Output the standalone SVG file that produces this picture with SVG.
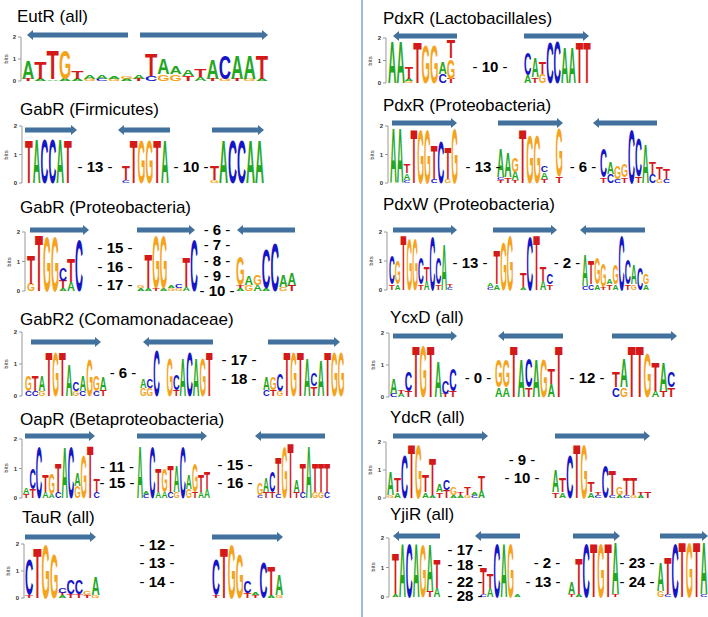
<svg xmlns="http://www.w3.org/2000/svg" width="708" height="617" viewBox="0 0 708 617">
<style>
.ti{font-family:"Liberation Sans",Arial,sans-serif;font-size:17px;fill:#000}
.lg text{font-family:"Liberation Sans",Arial,sans-serif;font-weight:bold}
.a{fill:#22a722}.c{fill:#1515c8}.g{fill:#f5a31a}.t{fill:#d41919}
.ax{stroke:#999;stroke-width:1;fill:none}
.al{font-family:"Liberation Sans",Arial,sans-serif;font-size:6px;font-weight:bold;fill:#333;text-anchor:end}
.bl{font-family:"Liberation Sans",Arial,sans-serif;font-size:6px;fill:#333;text-anchor:middle}
.n{font-family:"Liberation Sans",Arial,sans-serif;font-size:15px;font-weight:bold;fill:#000;text-anchor:middle}
.n tspan{font-weight:normal}
.ar{stroke:#41719c;stroke-width:5;marker-end:url(#ah)}
</style>
<defs>
<marker id="ah" markerWidth="6" markerHeight="10" refX="0" refY="5" orient="auto" markerUnits="userSpaceOnUse"><path d="M0,0L6,5L0,10z" fill="#41719c"/></marker>
</defs>
<rect width="708" height="617" fill="#fff"/>
<line x1="362" y1="0" x2="362" y2="617" stroke="#5b8fc7" stroke-width="1.2"/>

<g id="arrows">
<line class="ar" x1="128" y1="35" x2="33" y2="35"/>
<line class="ar" x1="140" y1="35" x2="262" y2="35"/>
<line class="ar" x1="25" y1="130" x2="71" y2="130"/>
<line class="ar" x1="170" y1="130" x2="124" y2="130"/>
<line class="ar" x1="212" y1="130" x2="258" y2="130"/>
<line class="ar" x1="30" y1="230" x2="83" y2="230"/>
<line class="ar" x1="137" y1="230" x2="189" y2="230"/>
<line class="ar" x1="295" y1="230" x2="243" y2="230"/>
<line class="ar" x1="31" y1="342" x2="95" y2="342"/>
<line class="ar" x1="213" y1="342" x2="149" y2="342"/>
<line class="ar" x1="268" y1="342" x2="334" y2="342"/>
<line class="ar" x1="25" y1="436" x2="89" y2="436"/>
<line class="ar" x1="137" y1="436" x2="201" y2="436"/>
<line class="ar" x1="325" y1="436" x2="261" y2="436"/>
<line class="ar" x1="25" y1="537" x2="90" y2="537"/>
<line class="ar" x1="212" y1="537" x2="277" y2="537"/>
<line class="ar" x1="457" y1="36" x2="399" y2="36"/>
<line class="ar" x1="524" y1="36" x2="583" y2="36"/>
<line class="ar" x1="392" y1="123" x2="451" y2="123"/>
<line class="ar" x1="498" y1="123" x2="557" y2="123"/>
<line class="ar" x1="657" y1="123" x2="599" y2="123"/>
<line class="ar" x1="393" y1="230" x2="451" y2="230"/>
<line class="ar" x1="493" y1="230" x2="551" y2="230"/>
<line class="ar" x1="645" y1="230" x2="586" y2="230"/>
<line class="ar" x1="393" y1="336" x2="451" y2="336"/>
<line class="ar" x1="563" y1="336" x2="504" y2="336"/>
<line class="ar" x1="612" y1="336" x2="671" y2="336"/>
<line class="ar" x1="393" y1="436" x2="482" y2="436"/>
<line class="ar" x1="555" y1="436" x2="644" y2="436"/>
<line class="ar" x1="440" y1="536" x2="399" y2="536"/>
<line class="ar" x1="520" y1="536" x2="481" y2="536"/>
<line class="ar" x1="573" y1="536" x2="614" y2="536"/>
<line class="ar" x1="660" y1="536" x2="702" y2="536"/>
</g>

<!-- EutR -->
<g id="eutr">
<text class="ti" x="17" y="22">EutR (all)</text>
<path class="ax" d="M21,37V81M18,37H21M18,59H21M18,81H21"/>
<text class="al" x="16" y="39">2</text><text class="al" x="16" y="61">1</text><text class="al" x="16" y="83">0</text>
<text class="bl" transform="translate(8,59) rotate(-90)">bits</text>
<g class="lg" transform="translate(22,81) scale(1.23,2.2)">
<text class="t" font-size="1.4" textLength="10" lengthAdjust="spacingAndGlyphs">T</text>
<text class="a" y="-1" font-size="11.9" textLength="10" lengthAdjust="spacingAndGlyphs">A</text>
<text class="a" x="10" font-size="1.4" textLength="10" lengthAdjust="spacingAndGlyphs">A</text>
<text class="t" x="10" y="-1" font-size="10.5" textLength="10" lengthAdjust="spacingAndGlyphs">T</text>
<text class="a" x="20" font-size="1.1" textLength="10" lengthAdjust="spacingAndGlyphs">A</text>
<text class="t" x="20" y="-0.8" font-size="18.9" textLength="10" lengthAdjust="spacingAndGlyphs">T</text>
<text class="a" x="30" font-size="1.4" textLength="10" lengthAdjust="spacingAndGlyphs">A</text>
<text class="g" x="30" y="-1" font-size="18.9" textLength="10" lengthAdjust="spacingAndGlyphs">G</text>
<text class="a" x="40" font-size="1.4" textLength="10" lengthAdjust="spacingAndGlyphs">A</text>
<text class="t" x="40" y="-1" font-size="4.9" textLength="10" lengthAdjust="spacingAndGlyphs">T</text>
<text class="g" x="50" font-size="1.4" textLength="10" lengthAdjust="spacingAndGlyphs">G</text>
<text class="a" x="50" y="-1" font-size="2.1" textLength="10" lengthAdjust="spacingAndGlyphs">A</text>
<text class="c" x="60" font-size="1.4" textLength="10" lengthAdjust="spacingAndGlyphs">C</text>
<text class="a" x="60" y="-1" font-size="2.1" textLength="10" lengthAdjust="spacingAndGlyphs">A</text>
<text class="g" x="70" font-size="1.4" textLength="10" lengthAdjust="spacingAndGlyphs">G</text>
<text class="a" x="70" y="-1" font-size="1.4" textLength="10" lengthAdjust="spacingAndGlyphs">A</text>
<text class="a" x="80" font-size="1.4" textLength="10" lengthAdjust="spacingAndGlyphs">A</text>
<text class="g" x="80" y="-1" font-size="1.4" textLength="10" lengthAdjust="spacingAndGlyphs">G</text>
<text class="t" x="90" font-size="1.4" textLength="10" lengthAdjust="spacingAndGlyphs">T</text>
<text class="a" x="90" y="-1" font-size="2.1" textLength="10" lengthAdjust="spacingAndGlyphs">A</text>
<text class="c" x="100" font-size="3.5" textLength="10" lengthAdjust="spacingAndGlyphs">C</text>
<text class="t" x="100" y="-2.5" font-size="14" textLength="10" lengthAdjust="spacingAndGlyphs">T</text>
<text class="g" x="110" font-size="4.2" textLength="10" lengthAdjust="spacingAndGlyphs">G</text>
<text class="a" x="110" y="-3" font-size="9.8" textLength="10" lengthAdjust="spacingAndGlyphs">A</text>
<text class="g" x="120" font-size="4.2" textLength="10" lengthAdjust="spacingAndGlyphs">G</text>
<text class="a" x="120" y="-3" font-size="4.9" textLength="10" lengthAdjust="spacingAndGlyphs">A</text>
<text class="t" x="130" font-size="3.5" textLength="10" lengthAdjust="spacingAndGlyphs">T</text>
<text class="a" x="130" y="-2.5" font-size="4.2" textLength="10" lengthAdjust="spacingAndGlyphs">A</text>
<text class="a" x="140" font-size="2.8" textLength="10" lengthAdjust="spacingAndGlyphs">A</text>
<text class="t" x="140" y="-2" font-size="4.9" textLength="10" lengthAdjust="spacingAndGlyphs">T</text>
<text class="t" x="150" font-size="1.4" textLength="10" lengthAdjust="spacingAndGlyphs">T</text>
<text class="a" x="150" y="-1" font-size="12.6" textLength="10" lengthAdjust="spacingAndGlyphs">A</text>
<text class="g" x="160" font-size="1.4" textLength="10" lengthAdjust="spacingAndGlyphs">G</text>
<text class="c" x="160" y="-1" font-size="14.7" textLength="10" lengthAdjust="spacingAndGlyphs">C</text>
<text class="t" x="170" font-size="1.4" textLength="10" lengthAdjust="spacingAndGlyphs">T</text>
<text class="a" x="170" y="-1" font-size="14.7" textLength="10" lengthAdjust="spacingAndGlyphs">A</text>
<text class="g" x="180" font-size="1.4" textLength="10" lengthAdjust="spacingAndGlyphs">G</text>
<text class="a" x="180" y="-1" font-size="14.7" textLength="10" lengthAdjust="spacingAndGlyphs">A</text>
<text class="a" x="190" font-size="1.4" textLength="10" lengthAdjust="spacingAndGlyphs">A</text>
<text class="t" x="190" y="-1" font-size="14.7" textLength="10" lengthAdjust="spacingAndGlyphs">T</text>
</g>
</g>

<!-- GabR Firmicutes -->
<g id="gabr-firmicutes">
<text class="ti" x="20" y="115">GabR (Firmicutes)</text>
<path class="ax" d="M22,126V183M19,126H22M19,154.5H22M19,183H22"/>
<text class="al" x="17" y="128">2</text><text class="al" x="17" y="156.5">1</text><text class="al" x="17" y="185">0</text>
<text class="bl" transform="translate(8,155) rotate(-90)">bits</text>
<g class="lg" transform="translate(25,183) scale(0.78,2.85)">
<text class="t" font-size="21.7" textLength="10" lengthAdjust="spacingAndGlyphs">T</text>
<text class="a" x="10" font-size="22.4" textLength="10" lengthAdjust="spacingAndGlyphs">A</text>
<text class="c" x="20" font-size="22.4" textLength="10" lengthAdjust="spacingAndGlyphs">C</text>
<text class="c" x="30" font-size="22.4" textLength="10" lengthAdjust="spacingAndGlyphs">C</text>
<text class="a" x="40" font-size="22.4" textLength="10" lengthAdjust="spacingAndGlyphs">A</text>
<text class="t" x="50" font-size="21.7" textLength="10" lengthAdjust="spacingAndGlyphs">T</text>
</g>
<g class="lg" transform="translate(122,183) scale(0.78,2.85)">
<text class="c" font-size="1.4" textLength="10" lengthAdjust="spacingAndGlyphs">C</text>
<text class="t" y="-1" font-size="7" textLength="10" lengthAdjust="spacingAndGlyphs">T</text>
<text class="t" x="10" font-size="21.7" textLength="10" lengthAdjust="spacingAndGlyphs">T</text>
<text class="g" x="20" font-size="21.7" textLength="10" lengthAdjust="spacingAndGlyphs">G</text>
<text class="g" x="30" font-size="21.7" textLength="10" lengthAdjust="spacingAndGlyphs">G</text>
<text class="t" x="40" font-size="21.7" textLength="10" lengthAdjust="spacingAndGlyphs">T</text>
<text class="a" x="50" font-size="21.7" textLength="10" lengthAdjust="spacingAndGlyphs">A</text>
</g>
<g class="lg" transform="translate(210,183) scale(0.9,2.85)">
<text class="g" font-size="1.4" textLength="10" lengthAdjust="spacingAndGlyphs">G</text>
<text class="t" y="-1" font-size="7" textLength="10" lengthAdjust="spacingAndGlyphs">T</text>
<text class="a" x="10" font-size="21.7" textLength="10" lengthAdjust="spacingAndGlyphs">A</text>
<text class="c" x="20" font-size="21.7" textLength="10" lengthAdjust="spacingAndGlyphs">C</text>
<text class="c" x="30" font-size="21.7" textLength="10" lengthAdjust="spacingAndGlyphs">C</text>
<text class="a" x="40" font-size="21.7" textLength="10" lengthAdjust="spacingAndGlyphs">A</text>
<text class="a" x="50" font-size="21.7" textLength="10" lengthAdjust="spacingAndGlyphs">A</text>
</g>
<text class="n" x="95" y="172"><tspan>-</tspan> 13 <tspan>-</tspan></text>
<text class="n" x="191" y="172"><tspan>-</tspan> 10 <tspan>-</tspan></text>
</g>

<!-- GabR Proteobacteria -->
<g id="gabr-proteobacteria">
<text class="ti" x="20" y="213">GabR (Proteobacteria)</text>
<path class="ax" d="M25,232V291M22,232H25M22,261.5H25M22,291H25"/>
<text class="al" x="20" y="234">2</text><text class="al" x="20" y="263.5">1</text><text class="al" x="20" y="293">0</text>
<text class="bl" transform="translate(11,262) rotate(-90)">bits</text>
<g class="lg" transform="translate(27,291) scale(0.8,2.95)">
<text class="g" font-size="3.5" textLength="10" lengthAdjust="spacingAndGlyphs">G</text>
<text class="t" y="-2.5" font-size="14" textLength="10" lengthAdjust="spacingAndGlyphs">T</text>
<text class="t" x="10" font-size="27.3" textLength="10" lengthAdjust="spacingAndGlyphs">T</text>
<text class="g" x="20" font-size="26.6" textLength="10" lengthAdjust="spacingAndGlyphs">G</text>
<text class="g" x="30" font-size="26.6" textLength="10" lengthAdjust="spacingAndGlyphs">G</text>
<text class="a" x="40" font-size="1.4" textLength="10" lengthAdjust="spacingAndGlyphs">A</text>
<text class="t" x="40" y="-1" font-size="3.5" textLength="10" lengthAdjust="spacingAndGlyphs">T</text>
<text class="c" x="40" y="-3.5" font-size="6.3" textLength="10" lengthAdjust="spacingAndGlyphs">C</text>
<text class="a" x="50" font-size="4.2" textLength="10" lengthAdjust="spacingAndGlyphs">A</text>
<text class="t" x="50" y="-3" font-size="11.2" textLength="10" lengthAdjust="spacingAndGlyphs">T</text>
<text class="c" x="60" font-size="24.5" textLength="10" lengthAdjust="spacingAndGlyphs">C</text>
</g>
<g class="lg" transform="translate(137,291) scale(0.76,2.95)">
<text class="a" font-size="1.4" textLength="10" lengthAdjust="spacingAndGlyphs">A</text>
<text class="g" y="-1" font-size="1.4" textLength="10" lengthAdjust="spacingAndGlyphs">G</text>
<text class="a" x="10" font-size="1.4" textLength="10" lengthAdjust="spacingAndGlyphs">A</text>
<text class="t" x="10" y="-1" font-size="16.1" textLength="10" lengthAdjust="spacingAndGlyphs">T</text>
<text class="t" x="20" font-size="1.4" textLength="10" lengthAdjust="spacingAndGlyphs">T</text>
<text class="g" x="20" y="-1" font-size="25.2" textLength="10" lengthAdjust="spacingAndGlyphs">G</text>
<text class="a" x="30" font-size="1.4" textLength="10" lengthAdjust="spacingAndGlyphs">A</text>
<text class="g" x="30" y="-1" font-size="25.2" textLength="10" lengthAdjust="spacingAndGlyphs">G</text>
<text class="g" x="40" font-size="1.4" textLength="10" lengthAdjust="spacingAndGlyphs">G</text>
<text class="a" x="40" y="-1" font-size="1.4" textLength="10" lengthAdjust="spacingAndGlyphs">A</text>
<text class="g" x="50" font-size="1.4" textLength="10" lengthAdjust="spacingAndGlyphs">G</text>
<text class="c" x="50" y="-1" font-size="2.1" textLength="10" lengthAdjust="spacingAndGlyphs">C</text>
<text class="a" x="60" font-size="2.1" textLength="10" lengthAdjust="spacingAndGlyphs">A</text>
<text class="t" x="60" y="-1.5" font-size="14.7" textLength="10" lengthAdjust="spacingAndGlyphs">T</text>
<text class="c" x="70" font-size="24.5" textLength="10" lengthAdjust="spacingAndGlyphs">C</text>
</g>
<g class="lg" transform="translate(236,291) scale(0.86,2.95)">
<text class="a" font-size="1.4" textLength="10" lengthAdjust="spacingAndGlyphs">A</text>
<text class="t" y="-1" font-size="1.4" textLength="10" lengthAdjust="spacingAndGlyphs">T</text>
<text class="g" y="-2" font-size="14" textLength="10" lengthAdjust="spacingAndGlyphs">G</text>
<text class="g" x="10" font-size="2.8" textLength="10" lengthAdjust="spacingAndGlyphs">G</text>
<text class="a" x="10" y="-2" font-size="4.2" textLength="10" lengthAdjust="spacingAndGlyphs">A</text>
<text class="a" x="20" font-size="2.8" textLength="10" lengthAdjust="spacingAndGlyphs">A</text>
<text class="g" x="20" y="-2" font-size="4.9" textLength="10" lengthAdjust="spacingAndGlyphs">G</text>
<text class="a" x="30" font-size="1.4" textLength="10" lengthAdjust="spacingAndGlyphs">A</text>
<text class="c" x="30" y="-1" font-size="18.9" textLength="10" lengthAdjust="spacingAndGlyphs">C</text>
<text class="c" x="40" font-size="23.1" textLength="10" lengthAdjust="spacingAndGlyphs">C</text>
<text class="g" x="50" font-size="2.1" textLength="10" lengthAdjust="spacingAndGlyphs">G</text>
<text class="a" x="50" y="-1.5" font-size="5.6" textLength="10" lengthAdjust="spacingAndGlyphs">A</text>
<text class="t" x="60" font-size="2.8" textLength="10" lengthAdjust="spacingAndGlyphs">T</text>
<text class="a" x="60" y="-2" font-size="5.6" textLength="10" lengthAdjust="spacingAndGlyphs">A</text>
</g>
<text class="n" x="115" y="253"><tspan>-</tspan> 15 <tspan>-</tspan></text>
<text class="n" x="115" y="272"><tspan>-</tspan> 16 <tspan>-</tspan></text>
<text class="n" x="115" y="290"><tspan>-</tspan> 17 <tspan>-</tspan></text>
<text class="n" x="217" y="235"><tspan>-</tspan> 6 <tspan>-</tspan></text>
<text class="n" x="217" y="250"><tspan>-</tspan> 7 <tspan>-</tspan></text>
<text class="n" x="217" y="266"><tspan>-</tspan> 8 <tspan>-</tspan></text>
<text class="n" x="217" y="281"><tspan>-</tspan> 9 <tspan>-</tspan></text>
<text class="n" x="217" y="296"><tspan>-</tspan> 10 <tspan>-</tspan></text>
</g>

<!-- GabR2 -->
<g id="gabr2">
<text class="ti" x="20" y="325">GabR2 (Comamonadaceae)</text>
<path class="ax" d="M22,332V396M19,332H22M19,364H22M19,396H22"/>
<text class="al" x="17" y="334">2</text><text class="al" x="17" y="366">1</text><text class="al" x="17" y="398">0</text>
<text class="bl" transform="translate(8,364) rotate(-90)">bits</text>
<g class="lg" transform="translate(25,396) scale(0.68,3.2)">
<text class="c" font-size="2.1" textLength="10" lengthAdjust="spacingAndGlyphs">C</text>
<text class="g" y="-1.5" font-size="7" textLength="10" lengthAdjust="spacingAndGlyphs">G</text>
<text class="c" x="10" font-size="2.1" textLength="10" lengthAdjust="spacingAndGlyphs">C</text>
<text class="t" x="10" y="-1.5" font-size="7" textLength="10" lengthAdjust="spacingAndGlyphs">T</text>
<text class="g" x="20" font-size="2.1" textLength="10" lengthAdjust="spacingAndGlyphs">G</text>
<text class="a" x="20" y="-1.5" font-size="7" textLength="10" lengthAdjust="spacingAndGlyphs">A</text>
<text class="t" x="30" font-size="19.6" textLength="10" lengthAdjust="spacingAndGlyphs">T</text>
<text class="g" x="40" font-size="19.6" textLength="10" lengthAdjust="spacingAndGlyphs">G</text>
<text class="t" x="50" font-size="19.6" textLength="10" lengthAdjust="spacingAndGlyphs">T</text>
<text class="a" x="60" font-size="14" textLength="10" lengthAdjust="spacingAndGlyphs">A</text>
<text class="g" x="70" font-size="2.1" textLength="10" lengthAdjust="spacingAndGlyphs">G</text>
<text class="c" x="70" y="-1.5" font-size="4.2" textLength="10" lengthAdjust="spacingAndGlyphs">C</text>
<text class="c" x="80" font-size="2.1" textLength="10" lengthAdjust="spacingAndGlyphs">C</text>
<text class="a" x="80" y="-1.5" font-size="7" textLength="10" lengthAdjust="spacingAndGlyphs">A</text>
<text class="g" x="90" font-size="16.1" textLength="10" lengthAdjust="spacingAndGlyphs">G</text>
<text class="c" x="100" font-size="2.1" textLength="10" lengthAdjust="spacingAndGlyphs">C</text>
<text class="g" x="100" y="-1.5" font-size="7" textLength="10" lengthAdjust="spacingAndGlyphs">G</text>
<text class="t" x="110" font-size="2.8" textLength="10" lengthAdjust="spacingAndGlyphs">T</text>
<text class="a" x="110" y="-2" font-size="5.6" textLength="10" lengthAdjust="spacingAndGlyphs">A</text>
</g>
<g class="lg" transform="translate(140,396) scale(0.66,3.2)">
<text class="g" font-size="3.5" textLength="10" lengthAdjust="spacingAndGlyphs">G</text>
<text class="a" y="-2.5" font-size="4.2" textLength="10" lengthAdjust="spacingAndGlyphs">A</text>
<text class="g" x="10" font-size="3.5" textLength="10" lengthAdjust="spacingAndGlyphs">G</text>
<text class="c" x="10" y="-2.5" font-size="4.2" textLength="10" lengthAdjust="spacingAndGlyphs">C</text>
<text class="c" x="20" font-size="20.3" textLength="10" lengthAdjust="spacingAndGlyphs">C</text>
<text class="g" x="40" font-size="16.8" textLength="10" lengthAdjust="spacingAndGlyphs">G</text>
<text class="t" x="50" font-size="2.8" textLength="10" lengthAdjust="spacingAndGlyphs">T</text>
<text class="c" x="50" y="-2" font-size="7" textLength="10" lengthAdjust="spacingAndGlyphs">C</text>
<text class="a" x="60" font-size="16.8" textLength="10" lengthAdjust="spacingAndGlyphs">A</text>
<text class="c" x="70" font-size="19.6" textLength="10" lengthAdjust="spacingAndGlyphs">C</text>
<text class="a" x="80" font-size="16.8" textLength="10" lengthAdjust="spacingAndGlyphs">A</text>
<text class="g" x="90" font-size="16.8" textLength="10" lengthAdjust="spacingAndGlyphs">G</text>
<text class="t" x="100" font-size="19.6" textLength="10" lengthAdjust="spacingAndGlyphs">T</text>
</g>
<g class="lg" transform="translate(263,396) scale(0.68,3.2)">
<text class="c" font-size="2.8" textLength="10" lengthAdjust="spacingAndGlyphs">C</text>
<text class="a" y="-2" font-size="5.6" textLength="10" lengthAdjust="spacingAndGlyphs">A</text>
<text class="t" x="10" font-size="2.8" textLength="10" lengthAdjust="spacingAndGlyphs">T</text>
<text class="g" x="10" y="-2" font-size="5.6" textLength="10" lengthAdjust="spacingAndGlyphs">G</text>
<text class="g" x="20" font-size="2.1" textLength="10" lengthAdjust="spacingAndGlyphs">G</text>
<text class="c" x="20" y="-1.5" font-size="7.7" textLength="10" lengthAdjust="spacingAndGlyphs">C</text>
<text class="t" x="30" font-size="19.6" textLength="10" lengthAdjust="spacingAndGlyphs">T</text>
<text class="g" x="40" font-size="19.6" textLength="10" lengthAdjust="spacingAndGlyphs">G</text>
<text class="t" x="50" font-size="19.6" textLength="10" lengthAdjust="spacingAndGlyphs">T</text>
<text class="a" x="60" font-size="16.8" textLength="10" lengthAdjust="spacingAndGlyphs">A</text>
<text class="t" x="70" font-size="4.2" textLength="10" lengthAdjust="spacingAndGlyphs">T</text>
<text class="c" x="70" y="-3" font-size="5.6" textLength="10" lengthAdjust="spacingAndGlyphs">C</text>
<text class="a" x="80" font-size="15.4" textLength="10" lengthAdjust="spacingAndGlyphs">A</text>
<text class="t" x="90" font-size="19.6" textLength="10" lengthAdjust="spacingAndGlyphs">T</text>
<text class="g" x="100" font-size="19.6" textLength="10" lengthAdjust="spacingAndGlyphs">G</text>
<text class="g" x="110" font-size="19.6" textLength="10" lengthAdjust="spacingAndGlyphs">G</text>
</g>
<text class="n" x="123" y="378"><tspan>-</tspan> 6 <tspan>-</tspan></text>
<text class="n" x="239" y="365"><tspan>-</tspan> 17 <tspan>-</tspan></text>
<text class="n" x="239" y="384"><tspan>-</tspan> 18 <tspan>-</tspan></text>
</g>

<!-- OapR -->
<g id="oapr">
<text class="ti" x="20" y="425">OapR (Betaproteobacteria)</text>
<path class="ax" d="M22,439V498M19,439H22M19,468.5H22M19,498H22"/>
<text class="al" x="17" y="441">2</text><text class="al" x="17" y="470.5">1</text><text class="al" x="17" y="500">0</text>
<text class="bl" transform="translate(8,468) rotate(-90)">bits</text>
<g class="lg" transform="translate(23,498) scale(0.64,2.95)">
<text class="t" font-size="2.1" textLength="10" lengthAdjust="spacingAndGlyphs">T</text>
<text class="a" y="-1.5" font-size="2.8" textLength="10" lengthAdjust="spacingAndGlyphs">A</text>
<text class="t" x="10" font-size="4.2" textLength="10" lengthAdjust="spacingAndGlyphs">T</text>
<text class="c" x="10" y="-3" font-size="9.8" textLength="10" lengthAdjust="spacingAndGlyphs">C</text>
<text class="c" x="20" font-size="24.5" textLength="10" lengthAdjust="spacingAndGlyphs">C</text>
<text class="a" x="30" font-size="2.8" textLength="10" lengthAdjust="spacingAndGlyphs">A</text>
<text class="t" x="30" y="-2" font-size="8.4" textLength="10" lengthAdjust="spacingAndGlyphs">T</text>
<text class="a" x="40" font-size="2.1" textLength="10" lengthAdjust="spacingAndGlyphs">A</text>
<text class="g" x="40" y="-1.5" font-size="9.8" textLength="10" lengthAdjust="spacingAndGlyphs">G</text>
<text class="c" x="50" font-size="2.8" textLength="10" lengthAdjust="spacingAndGlyphs">C</text>
<text class="t" x="50" y="-2" font-size="14" textLength="10" lengthAdjust="spacingAndGlyphs">T</text>
<text class="a" x="60" font-size="24.5" textLength="10" lengthAdjust="spacingAndGlyphs">A</text>
<text class="c" x="70" font-size="24.5" textLength="10" lengthAdjust="spacingAndGlyphs">C</text>
<text class="g" x="80" font-size="5.6" textLength="10" lengthAdjust="spacingAndGlyphs">G</text>
<text class="a" x="80" y="-4" font-size="6.3" textLength="10" lengthAdjust="spacingAndGlyphs">A</text>
<text class="g" x="90" font-size="21" textLength="10" lengthAdjust="spacingAndGlyphs">G</text>
<text class="t" x="100" font-size="25.2" textLength="10" lengthAdjust="spacingAndGlyphs">T</text>
<text class="c" x="110" font-size="2.8" textLength="10" lengthAdjust="spacingAndGlyphs">C</text>
<text class="t" x="110" y="-2" font-size="6.3" textLength="10" lengthAdjust="spacingAndGlyphs">T</text>
</g>
<g class="lg" transform="translate(137,498) scale(0.61,2.95)">
<text class="a" font-size="25.2" textLength="10" lengthAdjust="spacingAndGlyphs">A</text>
<text class="c" x="10" font-size="2.1" textLength="10" lengthAdjust="spacingAndGlyphs">C</text>
<text class="a" x="10" y="-1.5" font-size="1.4" textLength="10" lengthAdjust="spacingAndGlyphs">A</text>
<text class="c" x="20" font-size="24.5" textLength="10" lengthAdjust="spacingAndGlyphs">C</text>
<text class="a" x="30" font-size="2.8" textLength="10" lengthAdjust="spacingAndGlyphs">A</text>
<text class="t" x="30" y="-2" font-size="11.2" textLength="10" lengthAdjust="spacingAndGlyphs">T</text>
<text class="a" x="40" font-size="2.8" textLength="10" lengthAdjust="spacingAndGlyphs">A</text>
<text class="g" x="40" y="-2" font-size="11.2" textLength="10" lengthAdjust="spacingAndGlyphs">G</text>
<text class="c" x="50" font-size="2.8" textLength="10" lengthAdjust="spacingAndGlyphs">C</text>
<text class="t" x="50" y="-2" font-size="12.6" textLength="10" lengthAdjust="spacingAndGlyphs">T</text>
<text class="g" x="60" font-size="2.8" textLength="10" lengthAdjust="spacingAndGlyphs">G</text>
<text class="a" x="60" y="-2" font-size="12.6" textLength="10" lengthAdjust="spacingAndGlyphs">A</text>
<text class="c" x="70" font-size="24.5" textLength="10" lengthAdjust="spacingAndGlyphs">C</text>
<text class="g" x="80" font-size="4.2" textLength="10" lengthAdjust="spacingAndGlyphs">G</text>
<text class="a" x="80" y="-3" font-size="7" textLength="10" lengthAdjust="spacingAndGlyphs">A</text>
<text class="t" x="90" font-size="2.8" textLength="10" lengthAdjust="spacingAndGlyphs">T</text>
<text class="g" x="90" y="-2" font-size="14" textLength="10" lengthAdjust="spacingAndGlyphs">G</text>
<text class="a" x="100" font-size="2.8" textLength="10" lengthAdjust="spacingAndGlyphs">A</text>
<text class="t" x="100" y="-2" font-size="8.4" textLength="10" lengthAdjust="spacingAndGlyphs">T</text>
<text class="a" x="110" font-size="4.2" textLength="10" lengthAdjust="spacingAndGlyphs">A</text>
<text class="t" x="110" y="-3" font-size="8.4" textLength="10" lengthAdjust="spacingAndGlyphs">T</text>
</g>
<g class="lg" transform="translate(257,498) scale(0.61,2.95)">
<text class="c" font-size="1.4" textLength="10" lengthAdjust="spacingAndGlyphs">C</text>
<text class="g" y="-1" font-size="5.6" textLength="10" lengthAdjust="spacingAndGlyphs">G</text>
<text class="t" x="10" font-size="2.8" textLength="10" lengthAdjust="spacingAndGlyphs">T</text>
<text class="a" x="10" y="-2" font-size="7" textLength="10" lengthAdjust="spacingAndGlyphs">A</text>
<text class="t" x="20" font-size="2.8" textLength="10" lengthAdjust="spacingAndGlyphs">T</text>
<text class="c" x="20" y="-2" font-size="9.8" textLength="10" lengthAdjust="spacingAndGlyphs">C</text>
<text class="c" x="30" font-size="2.1" textLength="10" lengthAdjust="spacingAndGlyphs">C</text>
<text class="t" x="30" y="-1.5" font-size="17.5" textLength="10" lengthAdjust="spacingAndGlyphs">T</text>
<text class="g" x="40" font-size="24.5" textLength="10" lengthAdjust="spacingAndGlyphs">G</text>
<text class="t" x="50" font-size="26.6" textLength="10" lengthAdjust="spacingAndGlyphs">T</text>
<text class="t" x="60" font-size="2.8" textLength="10" lengthAdjust="spacingAndGlyphs">T</text>
<text class="a" x="60" y="-2" font-size="5.6" textLength="10" lengthAdjust="spacingAndGlyphs">A</text>
<text class="c" x="70" font-size="2.8" textLength="10" lengthAdjust="spacingAndGlyphs">C</text>
<text class="t" x="70" y="-2" font-size="14" textLength="10" lengthAdjust="spacingAndGlyphs">T</text>
<text class="a" x="80" font-size="25.2" textLength="10" lengthAdjust="spacingAndGlyphs">A</text>
<text class="g" x="90" font-size="2.8" textLength="10" lengthAdjust="spacingAndGlyphs">G</text>
<text class="t" x="90" y="-2" font-size="14" textLength="10" lengthAdjust="spacingAndGlyphs">T</text>
<text class="g" x="100" font-size="2.8" textLength="10" lengthAdjust="spacingAndGlyphs">G</text>
<text class="t" x="100" y="-2" font-size="14" textLength="10" lengthAdjust="spacingAndGlyphs">T</text>
<text class="c" x="110" font-size="2.8" textLength="10" lengthAdjust="spacingAndGlyphs">C</text>
<text class="t" x="110" y="-2" font-size="14" textLength="10" lengthAdjust="spacingAndGlyphs">T</text>
</g>
<text class="n" x="117" y="472"><tspan>-</tspan> 11 <tspan>-</tspan></text>
<text class="n" x="117" y="488"><tspan>-</tspan> 15 <tspan>-</tspan></text>
<text class="n" x="235" y="470"><tspan>-</tspan> 15 <tspan>-</tspan></text>
<text class="n" x="235" y="488"><tspan>-</tspan> 16 <tspan>-</tspan></text>
</g>

<!-- TauR -->
<g id="taur">
<text class="ti" x="22" y="523">TauR (all)</text>
<path class="ax" d="M24,544V598M21,544H24M21,571H24M21,598H24"/>
<text class="al" x="19" y="546">2</text><text class="al" x="19" y="573">1</text><text class="al" x="19" y="600">0</text>
<text class="bl" transform="translate(10,571) rotate(-90)">bits</text>
<g class="lg" transform="translate(25,598) scale(0.83,2.7)">
<text class="t" font-size="1.4" textLength="10" lengthAdjust="spacingAndGlyphs">T</text>
<text class="c" y="-1" font-size="18.2" textLength="10" lengthAdjust="spacingAndGlyphs">C</text>
<text class="t" x="10" font-size="25.9" textLength="10" lengthAdjust="spacingAndGlyphs">T</text>
<text class="g" x="20" font-size="28" textLength="10" lengthAdjust="spacingAndGlyphs">G</text>
<text class="g" x="30" font-size="23.1" textLength="10" lengthAdjust="spacingAndGlyphs">G</text>
<text class="a" x="40" font-size="1.4" textLength="10" lengthAdjust="spacingAndGlyphs">A</text>
<text class="t" x="40" y="-1" font-size="1.4" textLength="10" lengthAdjust="spacingAndGlyphs">T</text>
<text class="c" x="40" y="-2" font-size="2.8" textLength="10" lengthAdjust="spacingAndGlyphs">C</text>
<text class="t" x="50" font-size="2.1" textLength="10" lengthAdjust="spacingAndGlyphs">T</text>
<text class="c" x="50" y="-1.5" font-size="7.7" textLength="10" lengthAdjust="spacingAndGlyphs">C</text>
<text class="t" x="60" font-size="2.1" textLength="10" lengthAdjust="spacingAndGlyphs">T</text>
<text class="c" x="60" y="-1.5" font-size="7.7" textLength="10" lengthAdjust="spacingAndGlyphs">C</text>
<text class="t" x="70" font-size="1.4" textLength="10" lengthAdjust="spacingAndGlyphs">T</text>
<text class="g" x="70" y="-1" font-size="2.1" textLength="10" lengthAdjust="spacingAndGlyphs">G</text>
<text class="g" x="80" font-size="1.4" textLength="10" lengthAdjust="spacingAndGlyphs">G</text>
<text class="a" x="80" y="-1" font-size="9.8" textLength="10" lengthAdjust="spacingAndGlyphs">A</text>
</g>
<g class="lg" transform="translate(212,598) scale(0.79,2.7)">
<text class="t" font-size="1.4" textLength="10" lengthAdjust="spacingAndGlyphs">T</text>
<text class="c" y="-1" font-size="18.2" textLength="10" lengthAdjust="spacingAndGlyphs">C</text>
<text class="t" x="10" font-size="25.9" textLength="10" lengthAdjust="spacingAndGlyphs">T</text>
<text class="g" x="20" font-size="28" textLength="10" lengthAdjust="spacingAndGlyphs">G</text>
<text class="g" x="30" font-size="23.1" textLength="10" lengthAdjust="spacingAndGlyphs">G</text>
<text class="t" x="40" font-size="2.8" textLength="10" lengthAdjust="spacingAndGlyphs">T</text>
<text class="c" x="40" y="-2" font-size="6.3" textLength="10" lengthAdjust="spacingAndGlyphs">C</text>
<text class="t" x="50" font-size="1.4" textLength="10" lengthAdjust="spacingAndGlyphs">T</text>
<text class="a" x="50" y="-1" font-size="1.4" textLength="10" lengthAdjust="spacingAndGlyphs">A</text>
<text class="c" x="60" font-size="18.2" textLength="10" lengthAdjust="spacingAndGlyphs">C</text>
<text class="a" x="70" font-size="1.4" textLength="10" lengthAdjust="spacingAndGlyphs">A</text>
<text class="t" x="70" y="-1" font-size="15.4" textLength="10" lengthAdjust="spacingAndGlyphs">T</text>
<text class="g" x="80" font-size="1.4" textLength="10" lengthAdjust="spacingAndGlyphs">G</text>
<text class="a" x="80" y="-1" font-size="11.2" textLength="10" lengthAdjust="spacingAndGlyphs">A</text>
</g>
<text class="n" x="157" y="550"><tspan>-</tspan> 12 <tspan>-</tspan></text>
<text class="n" x="157" y="568"><tspan>-</tspan> 13 <tspan>-</tspan></text>
<text class="n" x="157" y="587"><tspan>-</tspan> 14 <tspan>-</tspan></text>
</g>

<!-- PdxR Lactobacillales -->
<g id="pdxr-lactobacillales">
<text class="ti" x="383" y="24">PdxR (Lactobacillales)</text>
<path class="ax" d="M386,38V83M383,38H386M383,60.5H386M383,83H386"/>
<text class="al" x="381" y="40">2</text><text class="al" x="381" y="62.5">1</text><text class="al" x="381" y="85">0</text>
<text class="bl" transform="translate(372,61) rotate(-90)">bits</text>
<g class="lg" transform="translate(388,83) scale(0.84,2.25)">
<text class="a" font-size="26.6" textLength="10" lengthAdjust="spacingAndGlyphs">A</text>
<text class="a" x="10" font-size="26.6" textLength="10" lengthAdjust="spacingAndGlyphs">A</text>
<text class="g" x="20" font-size="1.4" textLength="10" lengthAdjust="spacingAndGlyphs">G</text>
<text class="a" x="20" y="-1" font-size="1.4" textLength="10" lengthAdjust="spacingAndGlyphs">A</text>
<text class="t" x="20" y="-2" font-size="7" textLength="10" lengthAdjust="spacingAndGlyphs">T</text>
<text class="t" x="30" font-size="25.9" textLength="10" lengthAdjust="spacingAndGlyphs">T</text>
<text class="g" x="40" font-size="23.8" textLength="10" lengthAdjust="spacingAndGlyphs">G</text>
<text class="g" x="50" font-size="23.8" textLength="10" lengthAdjust="spacingAndGlyphs">G</text>
<text class="c" x="60" font-size="5.6" textLength="10" lengthAdjust="spacingAndGlyphs">C</text>
<text class="a" x="60" y="-4" font-size="7" textLength="10" lengthAdjust="spacingAndGlyphs">A</text>
<text class="t" x="70" font-size="2.8" textLength="10" lengthAdjust="spacingAndGlyphs">T</text>
<text class="g" x="70" y="-2" font-size="12.6" textLength="10" lengthAdjust="spacingAndGlyphs">G</text>
<text class="t" x="70" y="-11" font-size="11.2" textLength="10" lengthAdjust="spacingAndGlyphs">T</text>
</g>
<g class="lg" transform="translate(524,83) scale(0.74,2.25)">
<text class="a" font-size="4.9" textLength="10" lengthAdjust="spacingAndGlyphs">A</text>
<text class="c" y="-3.5" font-size="14" textLength="10" lengthAdjust="spacingAndGlyphs">C</text>
<text class="t" x="10" font-size="3.5" textLength="10" lengthAdjust="spacingAndGlyphs">T</text>
<text class="a" x="10" y="-2.5" font-size="12.6" textLength="10" lengthAdjust="spacingAndGlyphs">A</text>
<text class="g" x="20" font-size="5.6" textLength="10" lengthAdjust="spacingAndGlyphs">G</text>
<text class="t" x="20" y="-4" font-size="7.7" textLength="10" lengthAdjust="spacingAndGlyphs">T</text>
<text class="c" x="30" font-size="25.2" textLength="10" lengthAdjust="spacingAndGlyphs">C</text>
<text class="c" x="40" font-size="26.6" textLength="10" lengthAdjust="spacingAndGlyphs">C</text>
<text class="a" x="50" font-size="22.4" textLength="10" lengthAdjust="spacingAndGlyphs">A</text>
<text class="a" x="60" font-size="22.4" textLength="10" lengthAdjust="spacingAndGlyphs">A</text>
<text class="t" x="70" font-size="25.9" textLength="10" lengthAdjust="spacingAndGlyphs">T</text>
<text class="t" x="80" font-size="25.9" textLength="10" lengthAdjust="spacingAndGlyphs">T</text>
</g>
<text class="n" x="490" y="72"><tspan>-</tspan> 10 <tspan>-</tspan></text>
</g>

<!-- PdxR Proteobacteria -->
<g id="pdxr-proteobacteria">
<text class="ti" x="383" y="111">PdxR (Proteobacteria)</text>
<path class="ax" d="M388,126V183M385,126H388M385,154.5H388M385,183H388"/>
<text class="al" x="383" y="128">2</text><text class="al" x="383" y="156.5">1</text><text class="al" x="383" y="185">0</text>
<text class="bl" transform="translate(374,155) rotate(-90)">bits</text>
<g class="lg" transform="translate(390,183) scale(0.68,2.85)">
<text class="a" font-size="27.3" textLength="10" lengthAdjust="spacingAndGlyphs">A</text>
<text class="a" x="10" font-size="27.3" textLength="10" lengthAdjust="spacingAndGlyphs">A</text>
<text class="c" x="20" font-size="1.4" textLength="10" lengthAdjust="spacingAndGlyphs">C</text>
<text class="a" x="20" y="-1" font-size="3.5" textLength="10" lengthAdjust="spacingAndGlyphs">A</text>
<text class="t" x="20" y="-3.5" font-size="4.2" textLength="10" lengthAdjust="spacingAndGlyphs">T</text>
<text class="t" x="30" font-size="26.6" textLength="10" lengthAdjust="spacingAndGlyphs">T</text>
<text class="g" x="40" font-size="26.6" textLength="10" lengthAdjust="spacingAndGlyphs">G</text>
<text class="g" x="50" font-size="26.6" textLength="10" lengthAdjust="spacingAndGlyphs">G</text>
<text class="c" x="60" font-size="2.1" textLength="10" lengthAdjust="spacingAndGlyphs">C</text>
<text class="t" x="60" y="-1.5" font-size="16.8" textLength="10" lengthAdjust="spacingAndGlyphs">T</text>
<text class="c" x="70" font-size="21" textLength="10" lengthAdjust="spacingAndGlyphs">C</text>
<text class="g" x="80" font-size="2.1" textLength="10" lengthAdjust="spacingAndGlyphs">G</text>
<text class="t" x="80" y="-1.5" font-size="15.4" textLength="10" lengthAdjust="spacingAndGlyphs">T</text>
<text class="g" x="90" font-size="27.3" textLength="10" lengthAdjust="spacingAndGlyphs">G</text>
</g>
<g class="lg" transform="translate(497,183) scale(0.73,2.85)">
<text class="t" font-size="1.4" textLength="10" lengthAdjust="spacingAndGlyphs">T</text>
<text class="c" y="-1" font-size="1.4" textLength="10" lengthAdjust="spacingAndGlyphs">C</text>
<text class="a" y="-2" font-size="14" textLength="10" lengthAdjust="spacingAndGlyphs">A</text>
<text class="t" x="10" font-size="2.8" textLength="10" lengthAdjust="spacingAndGlyphs">T</text>
<text class="a" x="10" y="-2" font-size="12.6" textLength="10" lengthAdjust="spacingAndGlyphs">A</text>
<text class="t" x="20" font-size="1.4" textLength="10" lengthAdjust="spacingAndGlyphs">T</text>
<text class="a" x="20" y="-1" font-size="4.2" textLength="10" lengthAdjust="spacingAndGlyphs">A</text>
<text class="g" x="20" y="-4" font-size="7" textLength="10" lengthAdjust="spacingAndGlyphs">G</text>
<text class="t" x="30" font-size="26.6" textLength="10" lengthAdjust="spacingAndGlyphs">T</text>
<text class="g" x="40" font-size="23.8" textLength="10" lengthAdjust="spacingAndGlyphs">G</text>
<text class="g" x="50" font-size="23.8" textLength="10" lengthAdjust="spacingAndGlyphs">G</text>
<text class="t" x="60" font-size="2.1" textLength="10" lengthAdjust="spacingAndGlyphs">T</text>
<text class="a" x="60" y="-1.5" font-size="3.5" textLength="10" lengthAdjust="spacingAndGlyphs">A</text>
<text class="c" x="60" y="-4" font-size="3.5" textLength="10" lengthAdjust="spacingAndGlyphs">C</text>
<text class="t" x="80" font-size="3.5" textLength="10" lengthAdjust="spacingAndGlyphs">T</text>
<text class="g" x="80" y="-2.5" font-size="23.8" textLength="10" lengthAdjust="spacingAndGlyphs">G</text>
</g>
<g class="lg" transform="translate(600,183) scale(0.7,2.85)">
<text class="t" font-size="2.8" textLength="10" lengthAdjust="spacingAndGlyphs">T</text>
<text class="c" y="-2" font-size="14" textLength="10" lengthAdjust="spacingAndGlyphs">C</text>
<text class="c" x="10" font-size="4.2" textLength="10" lengthAdjust="spacingAndGlyphs">C</text>
<text class="a" x="10" y="-3" font-size="5.6" textLength="10" lengthAdjust="spacingAndGlyphs">A</text>
<text class="c" x="20" font-size="2.1" textLength="10" lengthAdjust="spacingAndGlyphs">C</text>
<text class="g" x="20" y="-1.5" font-size="6.3" textLength="10" lengthAdjust="spacingAndGlyphs">G</text>
<text class="t" x="30" font-size="2.8" textLength="10" lengthAdjust="spacingAndGlyphs">T</text>
<text class="g" x="30" y="-2" font-size="6.3" textLength="10" lengthAdjust="spacingAndGlyphs">G</text>
<text class="c" x="40" font-size="26.6" textLength="10" lengthAdjust="spacingAndGlyphs">C</text>
<text class="t" x="50" font-size="3.5" textLength="10" lengthAdjust="spacingAndGlyphs">T</text>
<text class="c" x="50" y="-2.5" font-size="18.9" textLength="10" lengthAdjust="spacingAndGlyphs">C</text>
<text class="a" x="60" font-size="19.6" textLength="10" lengthAdjust="spacingAndGlyphs">A</text>
<text class="c" x="70" font-size="4.2" textLength="10" lengthAdjust="spacingAndGlyphs">C</text>
<text class="t" x="70" y="-3" font-size="5.6" textLength="10" lengthAdjust="spacingAndGlyphs">T</text>
<text class="g" x="80" font-size="2.1" textLength="10" lengthAdjust="spacingAndGlyphs">G</text>
<text class="t" x="80" y="-1.5" font-size="5.6" textLength="10" lengthAdjust="spacingAndGlyphs">T</text>
<text class="c" x="90" font-size="2.1" textLength="10" lengthAdjust="spacingAndGlyphs">C</text>
<text class="t" x="90" y="-1.5" font-size="4.9" textLength="10" lengthAdjust="spacingAndGlyphs">T</text>
</g>
<text class="n" x="483" y="172"><tspan>-</tspan> 13 <tspan>-</tspan></text>
<text class="n" x="583" y="172"><tspan>-</tspan> 6 <tspan>-</tspan></text>
</g>

<!-- PdxW -->
<g id="pdxw">
<text class="ti" x="383" y="210">PdxW (Proteobacteria)</text>
<path class="ax" d="M387,232V290M384,232H387M384,261H387M384,290H387"/>
<text class="al" x="382" y="234">2</text><text class="al" x="382" y="263">1</text><text class="al" x="382" y="292">0</text>
<text class="bl" transform="translate(373,261) rotate(-90)">bits</text>
<g class="lg" transform="translate(389,290) scale(0.58,2.9)">
<text class="t" font-size="2.8" textLength="10" lengthAdjust="spacingAndGlyphs">T</text>
<text class="c" y="-2" font-size="14" textLength="10" lengthAdjust="spacingAndGlyphs">C</text>
<text class="a" x="10" font-size="2.8" textLength="10" lengthAdjust="spacingAndGlyphs">A</text>
<text class="g" x="10" y="-2" font-size="11.2" textLength="10" lengthAdjust="spacingAndGlyphs">G</text>
<text class="t" x="20" font-size="26.6" textLength="10" lengthAdjust="spacingAndGlyphs">T</text>
<text class="g" x="30" font-size="25.2" textLength="10" lengthAdjust="spacingAndGlyphs">G</text>
<text class="g" x="40" font-size="25.2" textLength="10" lengthAdjust="spacingAndGlyphs">G</text>
<text class="t" x="50" font-size="2.8" textLength="10" lengthAdjust="spacingAndGlyphs">T</text>
<text class="c" x="50" y="-2" font-size="12.6" textLength="10" lengthAdjust="spacingAndGlyphs">C</text>
<text class="a" x="60" font-size="4.2" textLength="10" lengthAdjust="spacingAndGlyphs">A</text>
<text class="t" x="60" y="-3" font-size="7" textLength="10" lengthAdjust="spacingAndGlyphs">T</text>
<text class="c" x="70" font-size="25.9" textLength="10" lengthAdjust="spacingAndGlyphs">C</text>
<text class="t" x="80" font-size="2.8" textLength="10" lengthAdjust="spacingAndGlyphs">T</text>
<text class="c" x="80" y="-2" font-size="12.6" textLength="10" lengthAdjust="spacingAndGlyphs">C</text>
<text class="a" x="90" font-size="22.4" textLength="10" lengthAdjust="spacingAndGlyphs">A</text>
<text class="c" x="100" font-size="1.4" textLength="10" lengthAdjust="spacingAndGlyphs">C</text>
<text class="t" x="100" y="-1" font-size="1.4" textLength="10" lengthAdjust="spacingAndGlyphs">T</text>
</g>
<g class="lg" transform="translate(487,290) scale(0.66,2.9)">
<text class="c" font-size="1.4" textLength="10" lengthAdjust="spacingAndGlyphs">C</text>
<text class="a" y="-1" font-size="2.1" textLength="10" lengthAdjust="spacingAndGlyphs">A</text>
<text class="a" x="10" font-size="2.8" textLength="10" lengthAdjust="spacingAndGlyphs">A</text>
<text class="t" x="10" y="-2" font-size="16.8" textLength="10" lengthAdjust="spacingAndGlyphs">T</text>
<text class="g" x="20" font-size="23.8" textLength="10" lengthAdjust="spacingAndGlyphs">G</text>
<text class="g" x="30" font-size="26.6" textLength="10" lengthAdjust="spacingAndGlyphs">G</text>
<text class="a" x="50" font-size="1.4" textLength="10" lengthAdjust="spacingAndGlyphs">A</text>
<text class="t" x="50" y="-1" font-size="7" textLength="10" lengthAdjust="spacingAndGlyphs">T</text>
<text class="c" x="60" font-size="25.9" textLength="10" lengthAdjust="spacingAndGlyphs">C</text>
<text class="t" x="70" font-size="26.6" textLength="10" lengthAdjust="spacingAndGlyphs">T</text>
<text class="a" x="80" font-size="4.2" textLength="10" lengthAdjust="spacingAndGlyphs">A</text>
<text class="t" x="80" y="-3" font-size="7" textLength="10" lengthAdjust="spacingAndGlyphs">T</text>
<text class="t" x="90" font-size="2.8" textLength="10" lengthAdjust="spacingAndGlyphs">T</text>
<text class="c" x="90" y="-2" font-size="4.9" textLength="10" lengthAdjust="spacingAndGlyphs">C</text>
</g>
<g class="lg" transform="translate(582,290) scale(0.61,2.9)">
<text class="c" font-size="2.1" textLength="10" lengthAdjust="spacingAndGlyphs">C</text>
<text class="a" y="-1.5" font-size="15.4" textLength="10" lengthAdjust="spacingAndGlyphs">A</text>
<text class="c" x="10" font-size="2.8" textLength="10" lengthAdjust="spacingAndGlyphs">C</text>
<text class="t" x="10" y="-2" font-size="11.2" textLength="10" lengthAdjust="spacingAndGlyphs">T</text>
<text class="a" x="20" font-size="2.8" textLength="10" lengthAdjust="spacingAndGlyphs">A</text>
<text class="g" x="20" y="-2" font-size="12.6" textLength="10" lengthAdjust="spacingAndGlyphs">G</text>
<text class="t" x="30" font-size="1.4" textLength="10" lengthAdjust="spacingAndGlyphs">T</text>
<text class="g" x="30" y="-1" font-size="11.2" textLength="10" lengthAdjust="spacingAndGlyphs">G</text>
<text class="t" x="40" font-size="2.8" textLength="10" lengthAdjust="spacingAndGlyphs">T</text>
<text class="a" x="40" y="-2" font-size="2.8" textLength="10" lengthAdjust="spacingAndGlyphs">A</text>
<text class="a" x="50" font-size="2.8" textLength="10" lengthAdjust="spacingAndGlyphs">A</text>
<text class="g" x="50" y="-2" font-size="9.8" textLength="10" lengthAdjust="spacingAndGlyphs">G</text>
<text class="c" x="60" font-size="26.6" textLength="10" lengthAdjust="spacingAndGlyphs">C</text>
<text class="t" x="70" font-size="2.8" textLength="10" lengthAdjust="spacingAndGlyphs">T</text>
<text class="c" x="70" y="-2" font-size="11.9" textLength="10" lengthAdjust="spacingAndGlyphs">C</text>
<text class="g" x="80" font-size="2.8" textLength="10" lengthAdjust="spacingAndGlyphs">G</text>
<text class="a" x="80" y="-2" font-size="9.8" textLength="10" lengthAdjust="spacingAndGlyphs">A</text>
<text class="c" x="90" font-size="10.5" textLength="10" lengthAdjust="spacingAndGlyphs">C</text>
<text class="a" x="100" font-size="2.8" textLength="10" lengthAdjust="spacingAndGlyphs">A</text>
<text class="g" x="100" y="-2" font-size="4.9" textLength="10" lengthAdjust="spacingAndGlyphs">G</text>
</g>
<text class="n" x="470" y="268"><tspan>-</tspan> 13 <tspan>-</tspan></text>
<text class="n" x="567" y="268"><tspan>-</tspan> 2 <tspan>-</tspan></text>
</g>

<!-- YcxD -->
<g id="ycxd">
<text class="ti" x="390" y="323">YcxD (all)</text>
<path class="ax" d="M389,333V397M386,333H389M386,365H389M386,397H389"/>
<text class="al" x="384" y="335">2</text><text class="al" x="384" y="367">1</text><text class="al" x="384" y="399">0</text>
<text class="bl" transform="translate(375,365) rotate(-90)">bits</text>
<g class="lg" transform="translate(390,397) scale(0.74,3.2)">
<text class="c" font-size="1.4" textLength="10" lengthAdjust="spacingAndGlyphs">C</text>
<text class="a" y="-1" font-size="7" textLength="10" lengthAdjust="spacingAndGlyphs">A</text>
<text class="a" x="10" font-size="1.4" textLength="10" lengthAdjust="spacingAndGlyphs">A</text>
<text class="t" x="10" y="-1" font-size="1.4" textLength="10" lengthAdjust="spacingAndGlyphs">T</text>
<text class="t" x="20" font-size="2.8" textLength="10" lengthAdjust="spacingAndGlyphs">T</text>
<text class="c" x="20" y="-2" font-size="8.4" textLength="10" lengthAdjust="spacingAndGlyphs">C</text>
<text class="t" x="30" font-size="22.4" textLength="10" lengthAdjust="spacingAndGlyphs">T</text>
<text class="g" x="40" font-size="22.4" textLength="10" lengthAdjust="spacingAndGlyphs">G</text>
<text class="t" x="50" font-size="22.4" textLength="10" lengthAdjust="spacingAndGlyphs">T</text>
<text class="a" x="60" font-size="15.4" textLength="10" lengthAdjust="spacingAndGlyphs">A</text>
<text class="t" x="70" font-size="1.4" textLength="10" lengthAdjust="spacingAndGlyphs">T</text>
<text class="c" x="70" y="-1" font-size="5.6" textLength="10" lengthAdjust="spacingAndGlyphs">C</text>
<text class="t" x="80" font-size="2.8" textLength="10" lengthAdjust="spacingAndGlyphs">T</text>
<text class="c" x="80" y="-2" font-size="9.8" textLength="10" lengthAdjust="spacingAndGlyphs">C</text>
</g>
<g class="lg" transform="translate(495,397) scale(0.75,3.2)">
<text class="a" font-size="4.2" textLength="10" lengthAdjust="spacingAndGlyphs">A</text>
<text class="g" y="-3" font-size="11.9" textLength="10" lengthAdjust="spacingAndGlyphs">G</text>
<text class="a" x="10" font-size="4.2" textLength="10" lengthAdjust="spacingAndGlyphs">A</text>
<text class="g" x="10" y="-3" font-size="11.9" textLength="10" lengthAdjust="spacingAndGlyphs">G</text>
<text class="t" x="20" font-size="22.4" textLength="10" lengthAdjust="spacingAndGlyphs">T</text>
<text class="a" x="30" font-size="16.8" textLength="10" lengthAdjust="spacingAndGlyphs">A</text>
<text class="t" x="40" font-size="4.2" textLength="10" lengthAdjust="spacingAndGlyphs">T</text>
<text class="c" x="40" y="-3" font-size="12.6" textLength="10" lengthAdjust="spacingAndGlyphs">C</text>
<text class="a" x="50" font-size="16.8" textLength="10" lengthAdjust="spacingAndGlyphs">A</text>
<text class="g" x="60" font-size="16.8" textLength="10" lengthAdjust="spacingAndGlyphs">G</text>
<text class="a" x="70" font-size="5.6" textLength="10" lengthAdjust="spacingAndGlyphs">A</text>
<text class="t" x="70" y="-4" font-size="7" textLength="10" lengthAdjust="spacingAndGlyphs">T</text>
<text class="t" x="80" font-size="22.4" textLength="10" lengthAdjust="spacingAndGlyphs">T</text>
</g>
<g class="lg" transform="translate(612,397) scale(0.79,3.2)">
<text class="c" font-size="4.2" textLength="10" lengthAdjust="spacingAndGlyphs">C</text>
<text class="t" y="-3" font-size="7" textLength="10" lengthAdjust="spacingAndGlyphs">T</text>
<text class="g" x="10" font-size="4.2" textLength="10" lengthAdjust="spacingAndGlyphs">G</text>
<text class="a" x="10" y="-3" font-size="12.6" textLength="10" lengthAdjust="spacingAndGlyphs">A</text>
<text class="t" x="20" font-size="22.4" textLength="10" lengthAdjust="spacingAndGlyphs">T</text>
<text class="t" x="30" font-size="22.4" textLength="10" lengthAdjust="spacingAndGlyphs">T</text>
<text class="g" x="40" font-size="19.6" textLength="10" lengthAdjust="spacingAndGlyphs">G</text>
<text class="a" x="50" font-size="2.8" textLength="10" lengthAdjust="spacingAndGlyphs">A</text>
<text class="t" x="50" y="-2" font-size="12.6" textLength="10" lengthAdjust="spacingAndGlyphs">T</text>
<text class="t" x="60" font-size="2.8" textLength="10" lengthAdjust="spacingAndGlyphs">T</text>
<text class="a" x="60" y="-2" font-size="12.6" textLength="10" lengthAdjust="spacingAndGlyphs">A</text>
<text class="t" x="70" font-size="4.2" textLength="10" lengthAdjust="spacingAndGlyphs">T</text>
<text class="c" x="70" y="-3" font-size="7" textLength="10" lengthAdjust="spacingAndGlyphs">C</text>
</g>
<text class="n" x="478" y="383"><tspan>-</tspan> 0 <tspan>-</tspan></text>
<text class="n" x="587" y="383"><tspan>-</tspan> 12 <tspan>-</tspan></text>
</g>

<!-- YdcR -->
<g id="ydcr">
<text class="ti" x="390" y="423">YdcR (all)</text>
<path class="ax" d="M386,442V498M383,442H386M383,470H386M383,498H386"/>
<text class="al" x="381" y="444">2</text><text class="al" x="381" y="472">1</text><text class="al" x="381" y="500">0</text>
<text class="bl" transform="translate(372,470) rotate(-90)">bits</text>
<g class="lg" transform="translate(387,498) scale(0.7,2.8)">
<text class="g" font-size="1.4" textLength="10" lengthAdjust="spacingAndGlyphs">G</text>
<text class="a" y="-1" font-size="11.9" textLength="10" lengthAdjust="spacingAndGlyphs">A</text>
<text class="a" x="10" font-size="2.8" textLength="10" lengthAdjust="spacingAndGlyphs">A</text>
<text class="t" x="10" y="-2" font-size="7" textLength="10" lengthAdjust="spacingAndGlyphs">T</text>
<text class="c" x="20" font-size="21.7" textLength="10" lengthAdjust="spacingAndGlyphs">C</text>
<text class="t" x="30" font-size="27.3" textLength="10" lengthAdjust="spacingAndGlyphs">T</text>
<text class="g" x="40" font-size="27.3" textLength="10" lengthAdjust="spacingAndGlyphs">G</text>
<text class="a" x="50" font-size="2.8" textLength="10" lengthAdjust="spacingAndGlyphs">A</text>
<text class="t" x="50" y="-2" font-size="8.4" textLength="10" lengthAdjust="spacingAndGlyphs">T</text>
<text class="a" x="60" font-size="1.4" textLength="10" lengthAdjust="spacingAndGlyphs">A</text>
<text class="t" x="60" y="-1" font-size="18.2" textLength="10" lengthAdjust="spacingAndGlyphs">T</text>
<text class="t" x="70" font-size="2.8" textLength="10" lengthAdjust="spacingAndGlyphs">T</text>
<text class="a" x="70" y="-2" font-size="4.2" textLength="10" lengthAdjust="spacingAndGlyphs">A</text>
<text class="t" x="80" font-size="4.2" textLength="10" lengthAdjust="spacingAndGlyphs">T</text>
<text class="c" x="80" y="-3" font-size="4.9" textLength="10" lengthAdjust="spacingAndGlyphs">C</text>
<text class="a" x="90" font-size="1.4" textLength="10" lengthAdjust="spacingAndGlyphs">A</text>
<text class="g" x="90" y="-1" font-size="4.2" textLength="10" lengthAdjust="spacingAndGlyphs">G</text>
<text class="a" x="100" font-size="1.4" textLength="10" lengthAdjust="spacingAndGlyphs">A</text>
<text class="t" x="100" y="-1" font-size="1.4" textLength="10" lengthAdjust="spacingAndGlyphs">T</text>
<text class="g" x="110" font-size="1.4" textLength="10" lengthAdjust="spacingAndGlyphs">G</text>
<text class="t" x="110" y="-1" font-size="4.2" textLength="10" lengthAdjust="spacingAndGlyphs">T</text>
<text class="c" x="120" font-size="1.4" textLength="10" lengthAdjust="spacingAndGlyphs">C</text>
<text class="a" x="120" y="-1" font-size="1.4" textLength="10" lengthAdjust="spacingAndGlyphs">A</text>
<text class="a" x="130" font-size="4.2" textLength="10" lengthAdjust="spacingAndGlyphs">A</text>
<text class="t" x="130" y="-3" font-size="7" textLength="10" lengthAdjust="spacingAndGlyphs">T</text>
</g>
<g class="lg" transform="translate(552,498) scale(0.71,2.8)">
<text class="t" font-size="2.8" textLength="10" lengthAdjust="spacingAndGlyphs">T</text>
<text class="a" y="-2" font-size="11.2" textLength="10" lengthAdjust="spacingAndGlyphs">A</text>
<text class="a" x="10" font-size="2.8" textLength="10" lengthAdjust="spacingAndGlyphs">A</text>
<text class="t" x="10" y="-2" font-size="7" textLength="10" lengthAdjust="spacingAndGlyphs">T</text>
<text class="c" x="20" font-size="21.7" textLength="10" lengthAdjust="spacingAndGlyphs">C</text>
<text class="t" x="30" font-size="27.3" textLength="10" lengthAdjust="spacingAndGlyphs">T</text>
<text class="g" x="40" font-size="27.3" textLength="10" lengthAdjust="spacingAndGlyphs">G</text>
<text class="a" x="50" font-size="2.8" textLength="10" lengthAdjust="spacingAndGlyphs">A</text>
<text class="t" x="50" y="-2" font-size="4.9" textLength="10" lengthAdjust="spacingAndGlyphs">T</text>
<text class="c" x="60" font-size="1.4" textLength="10" lengthAdjust="spacingAndGlyphs">C</text>
<text class="t" x="60" y="-1" font-size="1.4" textLength="10" lengthAdjust="spacingAndGlyphs">T</text>
<text class="c" x="70" font-size="16.8" textLength="10" lengthAdjust="spacingAndGlyphs">C</text>
<text class="c" x="80" font-size="1.4" textLength="10" lengthAdjust="spacingAndGlyphs">C</text>
<text class="t" x="80" y="-1" font-size="12.6" textLength="10" lengthAdjust="spacingAndGlyphs">T</text>
<text class="a" x="90" font-size="1.4" textLength="10" lengthAdjust="spacingAndGlyphs">A</text>
<text class="g" x="90" y="-1" font-size="4.2" textLength="10" lengthAdjust="spacingAndGlyphs">G</text>
<text class="c" x="100" font-size="1.4" textLength="10" lengthAdjust="spacingAndGlyphs">C</text>
<text class="t" x="100" y="-1" font-size="8.4" textLength="10" lengthAdjust="spacingAndGlyphs">T</text>
<text class="g" x="110" font-size="1.4" textLength="10" lengthAdjust="spacingAndGlyphs">G</text>
<text class="t" x="110" y="-1" font-size="8.4" textLength="10" lengthAdjust="spacingAndGlyphs">T</text>
<text class="a" x="120" font-size="1.4" textLength="10" lengthAdjust="spacingAndGlyphs">A</text>
<text class="t" x="120" y="-1" font-size="1.4" textLength="10" lengthAdjust="spacingAndGlyphs">T</text>
<text class="t" x="130" font-size="3.5" textLength="10" lengthAdjust="spacingAndGlyphs">T</text>
</g>
<text class="n" x="522" y="465"><tspan>-</tspan> 9 <tspan>-</tspan></text>
<text class="n" x="522" y="483"><tspan>-</tspan> 10 <tspan>-</tspan></text>
</g>

<!-- YjiR -->
<g id="yjir">
<text class="ti" x="390" y="520">YjiR (all)</text>
<path class="ax" d="M389,538V597M386,538H389M386,567.5H389M386,597H389"/>
<text class="al" x="384" y="540">2</text><text class="al" x="384" y="569.5">1</text><text class="al" x="384" y="599">0</text>
<text class="bl" transform="translate(375,567) rotate(-90)">bits</text>
<g class="lg" transform="translate(392,597) scale(0.69,2.95)">
<text class="a" font-size="1.4" textLength="10" lengthAdjust="spacingAndGlyphs">A</text>
<text class="t" y="-1" font-size="19.6" textLength="10" lengthAdjust="spacingAndGlyphs">T</text>
<text class="a" x="10" font-size="25.9" textLength="10" lengthAdjust="spacingAndGlyphs">A</text>
<text class="c" x="20" font-size="25.9" textLength="10" lengthAdjust="spacingAndGlyphs">C</text>
<text class="a" x="30" font-size="25.9" textLength="10" lengthAdjust="spacingAndGlyphs">A</text>
<text class="g" x="40" font-size="25.2" textLength="10" lengthAdjust="spacingAndGlyphs">G</text>
<text class="t" x="50" font-size="2.8" textLength="10" lengthAdjust="spacingAndGlyphs">T</text>
<text class="a" x="50" y="-2" font-size="22.4" textLength="10" lengthAdjust="spacingAndGlyphs">A</text>
<text class="a" x="60" font-size="4.2" textLength="10" lengthAdjust="spacingAndGlyphs">A</text>
<text class="t" x="60" y="-3" font-size="14" textLength="10" lengthAdjust="spacingAndGlyphs">T</text>
</g>
<g class="lg" transform="translate(480,597) scale(0.68,2.95)">
<text class="c" font-size="1.4" textLength="10" lengthAdjust="spacingAndGlyphs">C</text>
<text class="t" y="-1" font-size="12.6" textLength="10" lengthAdjust="spacingAndGlyphs">T</text>
<text class="a" x="10" font-size="4.2" textLength="10" lengthAdjust="spacingAndGlyphs">A</text>
<text class="t" x="10" y="-3" font-size="7" textLength="10" lengthAdjust="spacingAndGlyphs">T</text>
<text class="c" x="20" font-size="25.9" textLength="10" lengthAdjust="spacingAndGlyphs">C</text>
<text class="a" x="30" font-size="25.9" textLength="10" lengthAdjust="spacingAndGlyphs">A</text>
<text class="g" x="40" font-size="25.9" textLength="10" lengthAdjust="spacingAndGlyphs">G</text>
<text class="a" x="50" font-size="1.4" textLength="10" lengthAdjust="spacingAndGlyphs">A</text>
</g>
<g class="lg" transform="translate(568,597) scale(0.73,2.95)">
<text class="t" font-size="1.4" textLength="10" lengthAdjust="spacingAndGlyphs">T</text>
<text class="a" y="-1" font-size="5.6" textLength="10" lengthAdjust="spacingAndGlyphs">A</text>
<text class="a" x="10" font-size="1.4" textLength="10" lengthAdjust="spacingAndGlyphs">A</text>
<text class="t" x="10" y="-1" font-size="16.8" textLength="10" lengthAdjust="spacingAndGlyphs">T</text>
<text class="c" x="20" font-size="25.9" textLength="10" lengthAdjust="spacingAndGlyphs">C</text>
<text class="t" x="30" font-size="25.9" textLength="10" lengthAdjust="spacingAndGlyphs">T</text>
<text class="g" x="40" font-size="25.9" textLength="10" lengthAdjust="spacingAndGlyphs">G</text>
<text class="t" x="50" font-size="25.9" textLength="10" lengthAdjust="spacingAndGlyphs">T</text>
<text class="t" x="60" font-size="1.4" textLength="10" lengthAdjust="spacingAndGlyphs">T</text>
<text class="a" x="60" y="-1" font-size="25.2" textLength="10" lengthAdjust="spacingAndGlyphs">A</text>
</g>
<g class="lg" transform="translate(657,597) scale(0.72,2.95)">
<text class="g" font-size="2.8" textLength="10" lengthAdjust="spacingAndGlyphs">G</text>
<text class="a" y="-2" font-size="14" textLength="10" lengthAdjust="spacingAndGlyphs">A</text>
<text class="c" x="10" font-size="1.4" textLength="10" lengthAdjust="spacingAndGlyphs">C</text>
<text class="t" x="10" y="-1" font-size="17.5" textLength="10" lengthAdjust="spacingAndGlyphs">T</text>
<text class="c" x="20" font-size="25.9" textLength="10" lengthAdjust="spacingAndGlyphs">C</text>
<text class="t" x="30" font-size="26.6" textLength="10" lengthAdjust="spacingAndGlyphs">T</text>
<text class="g" x="40" font-size="26.6" textLength="10" lengthAdjust="spacingAndGlyphs">G</text>
<text class="t" x="50" font-size="26.6" textLength="10" lengthAdjust="spacingAndGlyphs">T</text>
<text class="c" x="60" font-size="1.4" textLength="10" lengthAdjust="spacingAndGlyphs">C</text>
<text class="a" x="60" y="-1" font-size="25.2" textLength="10" lengthAdjust="spacingAndGlyphs">A</text>
</g>
<text class="n" x="465" y="555"><tspan>-</tspan> 17 <tspan>-</tspan></text>
<text class="n" x="465" y="570"><tspan>-</tspan> 18 <tspan>-</tspan></text>
<text class="n" x="465" y="587"><tspan>-</tspan> 22 <tspan>-</tspan></text>
<text class="n" x="465" y="601"><tspan>-</tspan> 28 <tspan>-</tspan></text>
<text class="n" x="547" y="568"><tspan>-</tspan> 2 <tspan>-</tspan></text>
<text class="n" x="543" y="587"><tspan>-</tspan> 13 <tspan>-</tspan></text>
<text class="n" x="637" y="568"><tspan>-</tspan> 23 <tspan>-</tspan></text>
<text class="n" x="637" y="587"><tspan>-</tspan> 24 <tspan>-</tspan></text>
</g>
</svg>
